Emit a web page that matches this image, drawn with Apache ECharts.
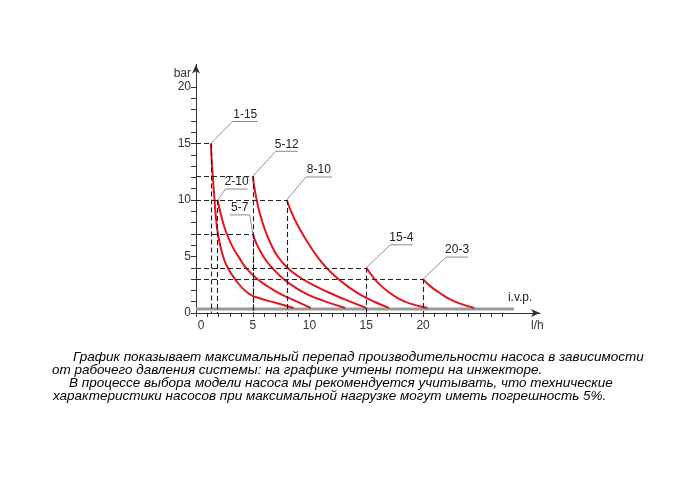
<!DOCTYPE html>
<html><head><meta charset="utf-8">
<script src="https://cdn.jsdelivr.net/npm/echarts@6/dist/echarts.min.js"></script>
<style>html,body{margin:0;padding:0;background:#fff}#c{width:690px;height:480px}</style>
</head><body><div id="c"></div>
<script>
// ---- data ----
const curveNames = ['1-15', '2-10', '5-7', '5-12', '8-10', '15-4', '20-3'];
const curve_1_15 = [[1.3,15],[1.45,12.5],[1.6,10.5],[1.75,8.5],[1.95,6.9],[2.3,5.3],[2.7,4.2],[3.5,2.9],[4.6,1.75],[5.6,1.3],[7.0,0.9],[8.6,0.45]];
const curve_2_10 = [[1.9,10],[2.2,8.7],[2.6,7.3],[3.2,5.9],[3.8,4.9],[4.4,4.0],[5.4,3.0],[6.4,2.3],[7.6,1.6],[8.8,1.05],[10.1,0.45]];
const curve_5_7 = [[5,7],[5.3,6.2],[5.7,5.4],[6.2,4.6],[6.8,3.9],[7.6,3.1],[8.6,2.35],[9.8,1.65],[11.3,1.05],[13.15,0.45]];
const curve_5_12 = [[5,12.1],[5.25,10.5],[5.6,8.9],[6.1,7.3],[6.6,6.1],[7.2,5.0],[8.0,4.05],[9.0,3.25],[10.1,2.6],[11.5,1.9],[13.1,1.2],[15.0,0.45]];
const curve_8_10 = [[8,10],[8.5,8.7],[9.1,7.5],[9.8,6.3],[10.6,5.1],[11.4,4.1],[12.3,3.2],[13.3,2.4],[14.5,1.6],[15.8,0.95],[17.0,0.45]];
const curve_15_4 = [[15,4],[15.5,3.3],[16.1,2.6],[16.9,1.9],[17.8,1.3],[18.8,0.85],[20.4,0.45]];
const curve_20_3 = [[20,3],[20.6,2.4],[21.5,1.75],[22.3,1.25],[23.2,0.85],[24.5,0.45]];
const curves = [curve_1_15, curve_2_10, curve_5_7, curve_5_12, curve_8_10, curve_15_4, curve_20_3];

const ivpName = 'i.v.p.';
const ivpLine = [[0,0.35],[28,0.35]];

const xTickValues = [0,1,2,3,4,5,6,7,8,9,10,11,12,13,14,15,16,17,18,19,20,21,22,23,24,25,26,27];
const xLabelValues = [0,5,10,15,20];
const yTickValues = [0,1,2,3,4,5,6,7,8,9,10,11,12,13,14,15,16,17,18,19,20];
const yLabelValues = [0,5,10,15,20];
const xName = 'l/h';
const yName = 'bar';

const captionLines = [
  'График показывает максимальный перепад производительности насоса в зависимости',
  'от рабочего давления системы: на графике учтены потери на инжекторе.',
  'В процессе выбора модели насоса мы рекомендуется учитывать, что технические',
  'характеристики насосов при максимальной нагрузке могут иметь погрешность 5%.'
];

// ---- styling / placement (pixels) ----
const labelPlacement = {
  '1-15': {dx:22, dy:-22, len:25},
  '2-10': {dx:8, dy:-11, len:22},
  '5-7':  {dx:-3, dy:-19, len:-20},
  '5-12': {dx:23, dy:-25, len:22},
  '8-10': {dx:19, dy:-23, len:26},
  '15-4': {dx:24, dy:-23, len:22},
  '20-3': {dx:23, dy:-22, len:22}
};
const captionPos = [[73,357],[52,370],[69,383],[53,396]];
const RED = '#e3161d';
const AX = '#333';

const chart = echarts.init(document.getElementById('c'), null, {renderer:'canvas'});

const series = curves.map((pts, i) => {
  const s = pts[0];
  return {
    name: curveNames[i], type: 'line', data: pts, smooth: 0.5,
    symbol: 'none', lineStyle: {color: RED, width: 2}, z: 3,
    markLine: {
      silent: true, symbol: 'none', label: {show: false},
      lineStyle: {color: '#222', type: [5,3], width: 1.1},
      data: [
        [{coord: [0, s[1]]}, {coord: [s[0], s[1]]}],
        [{coord: [s[0], s[1]]}, {coord: [s[0], 0]}]
      ]
    }
  };
});
series.unshift({
  name: ivpName, type: 'line', data: ivpLine, symbol: 'none',
  lineStyle: {color: '#9a9a9a', width: 3}, z: 2
});

const option = {
  animation: false,
  backgroundColor: '#fff',
  grid: {left: 196, right: 150, top: 64.4, bottom: 167},
  xAxis: {
    type: 'value', min: 0, max: 30.3,
    name: xName, nameLocation: 'end', nameGap: -9,
    nameTextStyle: {color: AX, fontSize: 12, fontFamily: 'Liberation Sans', verticalAlign: 'top', padding: [7,0,0,0]},
    axisLine: {show: true, onZero: false, lineStyle: {color: AX, width: 1}, symbol: ['none','arrow'], symbolSize: [6,9]},
    axisTick: {show: true, length: 4, lineStyle: {color: AX}, customValues: xTickValues},
    axisLabel: {color: AX, fontSize: 12, fontFamily: 'Liberation Sans', margin: 7, customValues: xLabelValues,
      formatter: v => v === 0 ? '{z|0}' : String(v),
      rich: {z: {color: AX, fontSize: 12, fontFamily: 'Liberation Sans', padding: [0,0,0,10]}}},
    splitLine: {show: false}
  },
  yAxis: {
    type: 'value', min: 0, max: 22,
    name: yName, nameLocation: 'end', nameGap: -9,
    nameTextStyle: {color: AX, fontSize: 12, fontFamily: 'Liberation Sans', align: 'right', verticalAlign: 'middle', padding: [0,5,0,0]},
    axisLine: {show: true, onZero: false, lineStyle: {color: AX, width: 1}, symbol: ['none','arrow'], symbolSize: [6,9]},
    axisTick: {show: true, length: 5, lineStyle: {color: AX}, customValues: yTickValues},
    axisLabel: {color: AX, fontSize: 12, fontFamily: 'Liberation Sans', margin: 5, customValues: yLabelValues},
    splitLine: {show: false}
  },
  series: series
};
chart.setOption(option);

// annotations anchored to data via the chart's scales
const g = [];
curves.forEach((pts, i) => {
  const nm = curveNames[i];
  const p = chart.convertToPixel({gridIndex: 0}, pts[0]);
  const c = labelPlacement[nm];
  const ex = p[0] + c.dx, ey = p[1] + c.dy;
  g.push({type:'line', silent:true, z:10, shape:{x1:p[0], y1:p[1], x2:ex, y2:ey}, style:{stroke:'#777', lineWidth:0.8}});
  g.push({type:'line', silent:true, z:10, shape:{x1:ex, y1:ey, x2:ex + c.len, y2:ey}, style:{stroke:'#888', lineWidth:1}});
  g.push({type:'text', silent:true, z:10, style:{text:nm, x:ex + c.len/2, y:ey - 7, align:'center', verticalAlign:'middle', fill:'#222', font:'12px "Liberation Sans", Arial, sans-serif'}});
});
const ivpEndPx = chart.convertToPixel({gridIndex: 0}, ivpLine[1]);
g.push({type:'text', silent:true, z:10, style:{text:ivpName, x:ivpEndPx[0] - 6, y:ivpEndPx[1] - 11, align:'left', verticalAlign:'middle', fill:'#222', font:'12px "Liberation Sans", Arial, sans-serif'}});
captionLines.forEach((t, i) => {
  g.push({type:'text', silent:true, style:{text:t, x:captionPos[i][0], y:captionPos[i][1], align:'left', verticalAlign:'middle', fill:'#000', font:'italic 13.5px "Liberation Sans", Arial, sans-serif'}});
});
chart.setOption({graphic: g});
</script>
</body></html>
